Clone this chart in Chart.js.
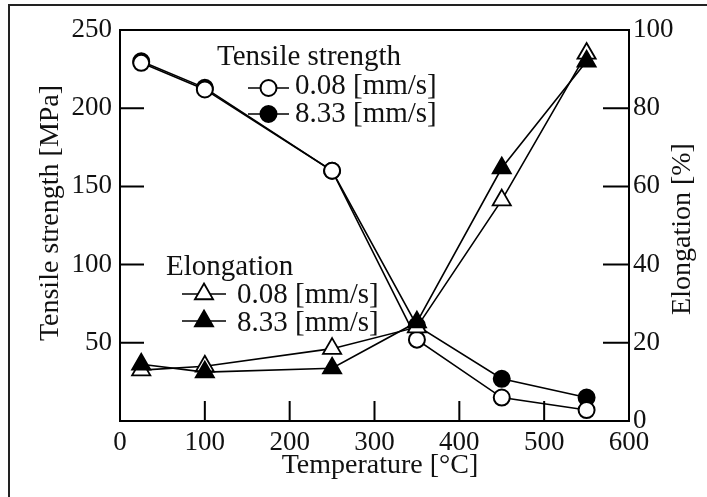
<!DOCTYPE html>
<html>
<head>
<meta charset="utf-8">
<script src="https://cdn.jsdelivr.net/npm/chart.js@4.4.1/dist/chart.umd.min.js"></script>
<style>
  html, body { margin: 0; padding: 0; background: #fff; }
  #wrap { position: relative; width: 707px; height: 497px; }
</style>
</head>
<body>
<div id="wrap"><canvas id="c" width="707" height="497"></canvas></div>
<script>
// ---- data ----
const temperatures = [25, 100, 250, 350, 450, 550];            // °C
const tensile008 = [229, 212, 160, 52, 15, 7];                  // MPa, 0.08 mm/s
const tensile833 = [230, 213, 160, 61, 27, 15];                 // MPa, 8.33 mm/s
const elong008 = [13, 14, 18.5, 24, 56.5, 94];                  // %, 0.08 mm/s
const elong833 = [14.5, 12.5, 13.5, 25.3, 64.7, 92];            // %, 8.33 mm/s

const xTicks = [0, 100, 200, 300, 400, 500, 600];
const leftTicks = [50, 100, 150, 200, 250];
const rightTicks = [0, 20, 40, 60, 80, 100];

const xTitle = 'Temperature [°C]';
const leftTitle = 'Tensile strength [MPa]';
const rightTitle = 'Elongation [%]';
const legendTensileTitle = 'Tensile strength';
const legendElongTitle = 'Elongation';
const legendRate1 = '0.08 [mm/s]';
const legendRate2 = '8.33 [mm/s]';

const FONT = "'Liberation Serif', 'Times New Roman', serif";
const INK = '#111';

const pts = arr => temperatures.map((t, i) => ({x: t, y: arr[i]}));

const circleOpen = {pointStyle: 'circle', radius: 8, borderWidth: 2, borderColor: '#000', backgroundColor: '#fff'};
const circleFill = {pointStyle: 'circle', radius: 8, borderWidth: 2, borderColor: '#000', backgroundColor: '#000'};
const triOpen = {pointStyle: 'triangle', radius: 10.5, borderWidth: 1.8, borderColor: '#000', backgroundColor: '#fff'};
const triFill = {pointStyle: 'triangle', radius: 10.5, borderWidth: 1.8, borderColor: '#000', backgroundColor: '#000'};

function ds(label, arr, axis, style, order) {
  return {
    label, data: pts(arr), yAxisID: axis, order,
    borderColor: '#000', borderWidth: 1.6, backgroundColor: style.backgroundColor,
    pointStyle: style.pointStyle, pointRadius: style.radius, pointHoverRadius: style.radius,
    pointBorderWidth: style.borderWidth, pointBorderColor: '#000',
    pointBackgroundColor: style.backgroundColor, tension: 0, fill: false
  };
}

const decor = {
  id: 'decor',
  beforeDraw(chart) {
    const ctx = chart.ctx;
    ctx.save();
    ctx.fillStyle = '#fff';
    ctx.fillRect(0, 0, chart.width, chart.height);
    // outer frame (top and left)
    ctx.strokeStyle = '#222';
    ctx.lineWidth = 2;
    ctx.beginPath();
    ctx.moveTo(9, 497); ctx.lineTo(9, 5); ctx.lineTo(707, 5);
    ctx.stroke();
    ctx.restore();
  },
  afterDatasetsDraw(chart) {
    const ctx = chart.ctx;
    const {left, right, top, bottom} = chart.chartArea;
    const xs = chart.scales.x, yl = chart.scales.y, yr = chart.scales.y1;
    ctx.save();
    ctx.strokeStyle = '#000';
    ctx.lineWidth = 2;
    ctx.strokeRect(left, top, right - left, bottom - top);
    // inward ticks
    ctx.lineWidth = 2;
    ctx.beginPath();
    xTicks.slice(1, -1).forEach(v => { const p = xs.getPixelForValue(v); ctx.moveTo(p, bottom); ctx.lineTo(p, bottom - 20); });
    leftTicks.slice(0, -1).forEach(v => { const p = yl.getPixelForValue(v); ctx.moveTo(left, p); ctx.lineTo(left + 24, p); });
    rightTicks.slice(1, -1).forEach(v => { const p = yr.getPixelForValue(v); ctx.moveTo(right, p); ctx.lineTo(right - 26, p); });
    ctx.stroke();

    // axis titles
    ctx.fillStyle = INK;
    ctx.font = '28px ' + FONT;
    ctx.textAlign = 'center';
    ctx.textBaseline = 'middle';
    ctx.fillText(xTitle, 380, 466);
    ctx.save(); ctx.translate(51, 213); ctx.rotate(-Math.PI / 2); ctx.fillText(leftTitle, 0, 0); ctx.restore();
    ctx.save(); ctx.translate(683, 229); ctx.rotate(-Math.PI / 2); ctx.fillText(rightTitle, 0, 0); ctx.restore();

    // legends
    const H = Chart.helpers;
    function sampleStyled(style, x1, x2, y) {
      ctx.save();
      ctx.fillStyle = style.backgroundColor; ctx.strokeStyle = '#000';
      ctx.lineWidth = 1.6;
      ctx.beginPath(); ctx.moveTo(x1, y); ctx.lineTo(x2, y); ctx.stroke();
      ctx.lineWidth = style.borderWidth;
      H.drawPoint(ctx, {pointStyle: style.pointStyle, radius: style.radius, borderWidth: style.borderWidth, rotation: 0},
        (x1 + x2) / 2, y);
      ctx.restore();
    }
    ctx.textAlign = 'left';
    ctx.textBaseline = 'alphabetic';
    ctx.fillStyle = INK;
    ctx.font = '29px ' + FONT;
    ctx.fillText(legendTensileTitle, 217, 65);
    ctx.fillText(legendRate1, 295, 94);
    ctx.fillText(legendRate2, 295, 122);
    sampleStyled(circleOpen, 248, 289, 88);
    sampleStyled(circleFill, 248, 289, 114);

    ctx.fillStyle = INK;
    ctx.fillText(legendElongTitle, 166, 275);
    ctx.fillText(legendRate1, 237, 303);
    ctx.fillText(legendRate2, 237, 331);
    sampleStyled(triOpen, 182, 226, 294);
    sampleStyled(triFill, 182, 226, 321);
    ctx.restore();
  }
};

const tickFont = {family: FONT, size: 27};

new Chart(document.getElementById('c'), {
  type: 'line',
  data: {
    datasets: [
      ds('Tensile 0.08', tensile008, 'y', circleOpen, 3),
      ds('Tensile 8.33', tensile833, 'y', circleFill, 4),
      ds('Elongation 8.33', elong833, 'y1', triFill, 1),
      ds('Elongation 0.08', elong008, 'y1', triOpen, 2)
    ]
  },
  options: {
    responsive: false,
    devicePixelRatio: 1,
    animation: false,
    layout: {padding: {top: 30, left: 0, right: 0, bottom: 0}},
    plugins: {legend: {display: false}, tooltip: {enabled: false}, title: {display: false}},
    scales: {
      x: {
        type: 'linear', min: 0, max: 600,
        afterFit: s => { s.height = 76; },
        afterBuildTicks: s => { s.ticks = xTicks.map(v => ({value: v})); },
        grid: {display: false, drawTicks: false},
        border: {display: false},
        ticks: {font: tickFont, color: INK, padding: 6, maxRotation: 0, autoSkip: false}
      },
      y: {
        type: 'linear', position: 'left', min: 0, max: 250,
        afterFit: s => { s.width = 120; },
        afterBuildTicks: s => { s.ticks = leftTicks.map(v => ({value: v})); },
        grid: {display: false, drawTicks: false},
        border: {display: false},
        ticks: {font: tickFont, color: INK, padding: 8, autoSkip: false}
      },
      y1: {
        type: 'linear', position: 'right', min: 0, max: 100,
        afterFit: s => { s.width = 78; },
        afterBuildTicks: s => { s.ticks = rightTicks.map(v => ({value: v})); },
        grid: {display: false, drawTicks: false},
        border: {display: false},
        ticks: {font: tickFont, color: INK, padding: 4, autoSkip: false}
      }
    }
  },
  plugins: [decor]
});
</script>
</body>
</html>
